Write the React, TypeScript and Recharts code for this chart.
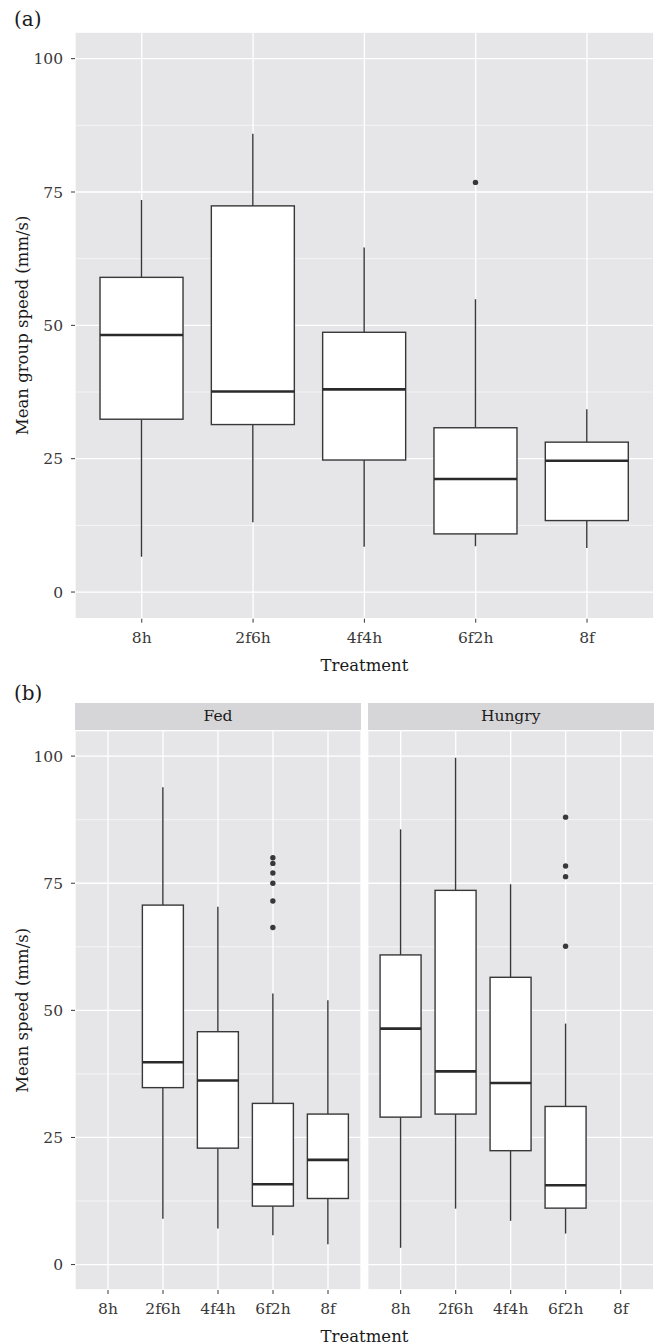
import React from 'react';
import { ComposedChart, Bar, XAxis, YAxis, CartesianGrid, Label } from 'recharts';

const treatments = ['8h', '2f6h', '4f4h', '6f2h', '8f'];
const yTicks = [0, 25, 50, 75, 100];
const yMinor = [12.5, 37.5, 62.5, 87.5];

// (a) mean group speed
const groupLow = [6.6, 13.1, 8.5, 8.6, 8.25];
const groupQ1 = [32.4, 31.4, 24.75, 10.9, 13.4];
const groupMed = [48.2, 37.6, 38.0, 21.2, 24.6];
const groupQ3 = [59.0, 72.4, 48.7, 30.8, 28.1];
const groupHigh = [73.5, 85.9, 64.6, 54.9, 34.25];
const groupOut = [[], [], [], [76.8], []];

// (b) fed
const fedLow = [null, 9.0, 7.1, 5.75, 4.0];
const fedQ1 = [null, 34.8, 22.9, 11.5, 13.0];
const fedMed = [null, 39.8, 36.2, 15.8, 20.6];
const fedQ3 = [null, 70.7, 45.8, 31.7, 29.6];
const fedHigh = [null, 93.9, 70.4, 53.3, 52.0];
const fedOut = [[], [], [], [80.0, 78.9, 77.0, 75.0, 71.5, 66.3], []];

// (b) hungry
const hunLow = [3.3, 11.0, 8.6, 6.1, null];
const hunQ1 = [29.0, 29.6, 22.4, 11.1, null];
const hunMed = [46.4, 38.0, 35.7, 15.6, null];
const hunQ3 = [60.9, 73.6, 56.5, 31.1, null];
const hunHigh = [85.6, 99.7, 74.8, 47.4, null];
const hunOut = [[], [], [], [88.0, 78.4, 76.3, 62.6], []];

const rows = (lo, q1, med, q3, hi, out) =>
  treatments.map((cat, i) => ({
    cat,
    range: lo[i] == null ? null : [lo[i], hi[i]],
    q1: q1[i],
    med: med[i],
    q3: q3[i],
    out: out[i],
  }));

const groupRows = rows(groupLow, groupQ1, groupMed, groupQ3, groupHigh, groupOut);
const fedRows = rows(fedLow, fedQ1, fedMed, fedQ3, fedHigh, fedOut);
const hunRows = rows(hunLow, hunQ1, hunMed, hunQ3, hunHigh, hunOut);

const FONT = '"DejaVu Serif", serif';
const INK = '#383838';
const PANEL = '#E6E6E8';
const STRIP = '#D6D6D8';

const BoxShape = (props: any) => {
  const { x, y, width, height, payload } = props;
  if (!payload || !payload.range) return <g />;
  const [lo, hi] = payload.range;
  const top = Math.min(y, y + height);
  const bottom = Math.max(y, y + height);
  const py = (v: number) => top + ((bottom - top) * (hi - v)) / (hi - lo);
  const cx = x + width / 2;
  return (
    <g>
      <line x1={cx} x2={cx} y1={py(hi)} y2={py(payload.q3)} stroke={INK} strokeWidth={1.4} />
      <line x1={cx} x2={cx} y1={py(payload.q1)} y2={py(lo)} stroke={INK} strokeWidth={1.4} />
      <rect
        x={x}
        y={py(payload.q3)}
        width={width}
        height={py(payload.q1) - py(payload.q3)}
        fill="#fff"
        stroke={INK}
        strokeWidth={1.4}
      />
      <line x1={x} x2={x + width} y1={py(payload.med)} y2={py(payload.med)} stroke="#2a2a2a" strokeWidth={2.6} />
      {payload.out.map((v: number, i: number) => (
        <circle key={i} cx={cx} cy={py(v)} r={2.7} fill={INK} />
      ))}
    </g>
  );
};

const tickStyle = { fill: INK, fontSize: 15.5, fontFamily: FONT };

const Panel = ({ data, width, height, margin, pad, showY, yTitle, xTitle }: any) => (
  <ComposedChart width={width} height={height} data={data} margin={margin} barCategoryGap="12.5%">
    <CartesianGrid yAxisId="main" fill={PANEL} fillOpacity={1} stroke="#fff" strokeWidth={1.3} />
    <CartesianGrid yAxisId="minor" vertical={false} stroke="#fff" strokeWidth={0.6} />
    <XAxis
      dataKey="cat"
      height={margin.xh}
      padding={{ left: pad, right: pad }}
      axisLine={false}
      tickSize={4}
      tickMargin={9}
      tickLine={{ stroke: INK }}
      tick={tickStyle}
      interval={0}
    >
      {xTitle ? (
        <Label value={xTitle} position="insideBottom" offset={9} style={{ fill: '#1a1a1a', fontSize: 16.5, fontFamily: FONT }} />
      ) : null}
    </XAxis>
    <YAxis
      yAxisId="main"
      type="number"
      domain={[-5, 105]}
      ticks={yTicks}
      allowDataOverflow
      hide={!showY}
      width={75}
      axisLine={false}
      tickSize={4}
      tickMargin={8}
      tickLine={{ stroke: INK }}
      tick={tickStyle}
    >
      {yTitle ? (
        <Label
          value={yTitle}
          angle={-90}
          position="insideLeft"
          offset={22}
          style={{ textAnchor: 'middle', fill: '#1a1a1a', fontSize: 16.5, fontFamily: FONT }}
        />
      ) : null}
    </YAxis>
    <YAxis yAxisId="minor" type="number" domain={[-5, 105]} ticks={yMinor} allowDataOverflow hide />
    <Bar yAxisId="main" dataKey="range" shape={<BoxShape />} isAnimationActive={false} />
  </ComposedChart>
);

const stripStyle: React.CSSProperties = {
  position: 'absolute',
  top: 703.3,
  width: 286,
  height: 27.4,
  background: STRIP,
  color: '#1a1a1a',
  fontSize: 15.5,
  lineHeight: '27.4px',
  textAlign: 'center',
};

export default function App() {
  return (
    <div
      style={{
        position: 'absolute',
        left: 0,
        top: 0,
        width: 656,
        height: 1344,
        background: '#fff',
        fontFamily: FONT,
      }}
    >
      <div style={{ position: 'absolute', left: 0, top: 0 }}>
        <Panel
          data={groupRows}
          width={656}
          height={680}
          margin={{ top: 32, right: 2.2, left: 0, bottom: 0, xh: 61.3 }}
          pad={11.1}
          showY
          yTitle="Mean group speed (mm/s)"
          xTitle="Treatment"
        />
      </div>
      <div style={{ position: 'absolute', left: 14, top: 7, fontSize: 20, color: '#1a1a1a' }}>(a)</div>
      <div style={{ position: 'absolute', left: 14, top: 681, fontSize: 20, color: '#1a1a1a' }}>(b)</div>

      <div style={{ ...stripStyle, left: 75 }}>Fed</div>
      <div style={{ ...stripStyle, left: 367.7 }}>Hungry</div>

      <div style={{ position: 'absolute', left: 0, top: 700 }}>
        <Panel
          data={fedRows}
          width={362}
          height={644}
          margin={{ top: 30.7, right: 1, left: 0, bottom: 0, xh: 54 }}
          pad={5.5}
          showY
          yTitle="Mean speed (mm/s)"
        />
      </div>
      <div style={{ position: 'absolute', left: 362, top: 700 }}>
        <Panel
          data={hunRows}
          width={294}
          height={644}
          margin={{ top: 30.7, right: 2.3, left: 5.7, bottom: 0, xh: 54 }}
          pad={5.5}
          showY={false}
        />
      </div>
      <div
        style={{
          position: 'absolute',
          left: 75,
          width: 579,
          top: 1327,
          lineHeight: '20px',
          textAlign: 'center',
          fontSize: 16.5,
          color: '#1a1a1a',
        }}
      >
        Treatment
      </div>
    </div>
  );
}
